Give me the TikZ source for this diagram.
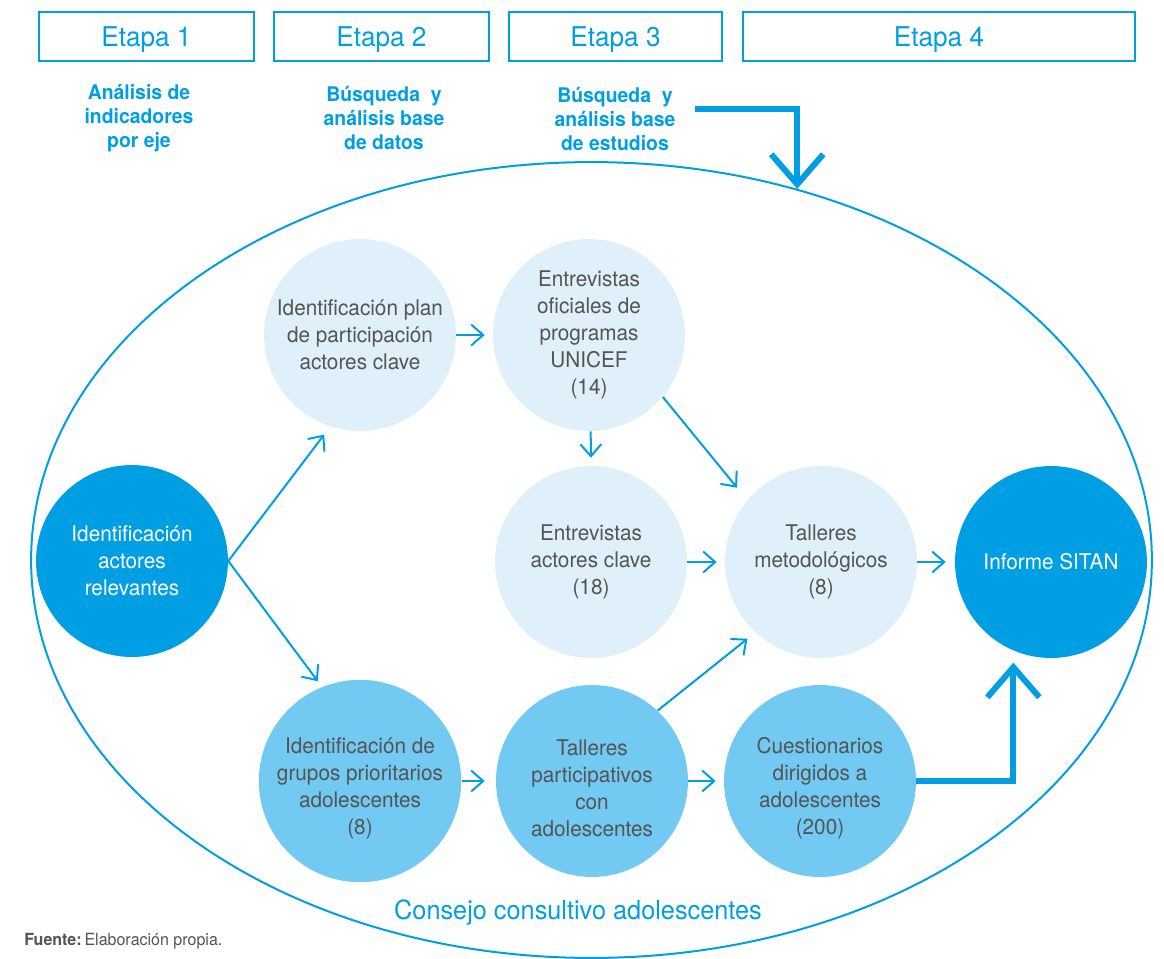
\documentclass[tikz,border=0pt]{standalone}
\usepackage{fontspec}
\setmainfont{TeX Gyre Heros}[FakeStretch=0.96]
\usetikzlibrary{arrows.meta,shapes.geometric}
\definecolor{unicef}{HTML}{009FE3}
\definecolor{celeste}{HTML}{DFF0FB}
\definecolor{medio}{HTML}{72C9F2}
\definecolor{gristxt}{HTML}{545454}

\begin{document}
\begin{tikzpicture}[x=0.02cm,y=-0.02cm,
    etapa/.style={draw=unicef,line width=0.04cm,minimum height=0.98cm,inner sep=0pt,text=unicef,font=\fontsize{15.5}{18}\selectfont},
    paso/.style={text=unicef,align=center,font=\bfseries\fontsize{11.5}{13.7}\selectfont},
    burbuja/.style={circle,minimum size=3.84cm,inner sep=0pt,align=center,text=gristxt,font=\fontsize{12.3}{15.3}\selectfont},
    clara/.style={burbuja,fill=celeste},
    media/.style={burbuja,fill=medio},
    fuerte/.style={burbuja,fill=unicef,text=white},
    flecha/.style={draw=unicef,line width=0.04cm,-{Straight Barb[length=0.24cm,width=0.42cm]}},
    flechagruesa/.style={draw=unicef,line width=0.12cm,-{Straight Barb[length=0.6cm,width=1.04cm]}}]
    \useasboundingbox (0,0) rectangle (1164,958);

    % etapas
    \node[etapa,minimum width=4.3cm,text depth=0pt] (e1) at (146.5,36.5) {Etapa 1};
    \node[etapa,minimum width=4.3cm,text depth=0pt] (e2) at (381.5,36.5) {Etapa 2};
    \node[etapa,minimum width=4.26cm,text depth=0pt] (e3) at (615.5,36.5) {Etapa 3};
    \node[etapa,minimum width=7.84cm,text depth=0pt] (e4) at (939,36.5) {Etapa 4};

    \node[paso] (p1) at (139,118) {Análisis de\\indicadores\\por eje};
    \node[paso] (p2) at (384,118) {Búsqueda~ y\\análisis base\\de datos};
    \node[paso] (p3) at (615,119) {Búsqueda~ y\\análisis base\\de estudios};

    % consejo consultivo
    \node[draw=unicef,line width=0.04cm,ellipse,minimum width=22.42cm,minimum height=15.92cm,inner sep=0pt] (consejo) at (591.5,560) {};
    \node[text=unicef,font=\fontsize{15}{17}\selectfont] (lema) at (578,913) {Consejo consultivo adolescentes};

    \coordinate (inicio) at (695,109);
    \draw[flechagruesa] (inicio) -| (consejo.61.7);

    % circulos
    \node[fuerte] (rel) at (132,561) {Identificación\\actores\\relevantes};
    \node[clara] (plan) at (360,335) {Identificación plan\\de participación\\actores clave};
    \node[clara] (ofic) at (589,335) {Entrevistas\\oficiales de\\programas\\UNICEF\\(14)};
    \node[clara] (act) at (591,562) {Entrevistas\\actores clave\\(18)};
    \node[clara] (tmet) at (821,562) {Talleres\\metodológicos\\(8)};
    \node[fuerte] (inf) at (1051,562) {Informe SITAN};
    \node[media] (grup) at (360,781) {\mbox{}\\[2pt]Identificación de\\grupos prioritarios\\adolescentes\\(8)};
    \node[media] (part) at (592,781) {\mbox{}\\[2pt]Talleres\\participativos\\con\\adolescentes};
    \node[media] (cuest) at (820,781) {\mbox{}\\[2pt]Cuestionarios\\dirigidos a\\adolescentes\\(200)};

    % flechas
    \draw[flecha,shorten >=0.2cm] (rel.east) -- (plan.252);
    \draw[flecha,shorten >=0.14cm] (rel.east) -- (grup.112);
    \draw[flecha,shorten >=0.16cm] (plan) -- (ofic);
    \draw[flecha,shorten >=0.16cm] (ofic.-89) -- (act.90);
    \draw[flecha,shorten >=0.32cm] (ofic.-40) -- (tmet.140);
    \draw[flecha,shorten >=0.16cm] (act) -- (tmet);
    \draw[flecha,shorten >=0.18cm] (tmet) -- (inf);
    \draw[flecha,shorten >=0.22cm] (grup) -- (part);
    \draw[flecha,shorten >=0.16cm] (part) -- (cuest);
    \draw[flecha,shorten >=0.2cm] (part.47) -- (tmet.227);
    \draw[flechagruesa,shorten >=0.24cm] (cuest.east) -| (inf.247);

    \node[anchor=west,inner sep=0pt,text=gristxt,font=\fontsize{9.5}{11}\selectfont] (fuente) at (24,941) {\textbf{Fuente:}\,Elaboración propia.};
\end{tikzpicture}
\end{document}
